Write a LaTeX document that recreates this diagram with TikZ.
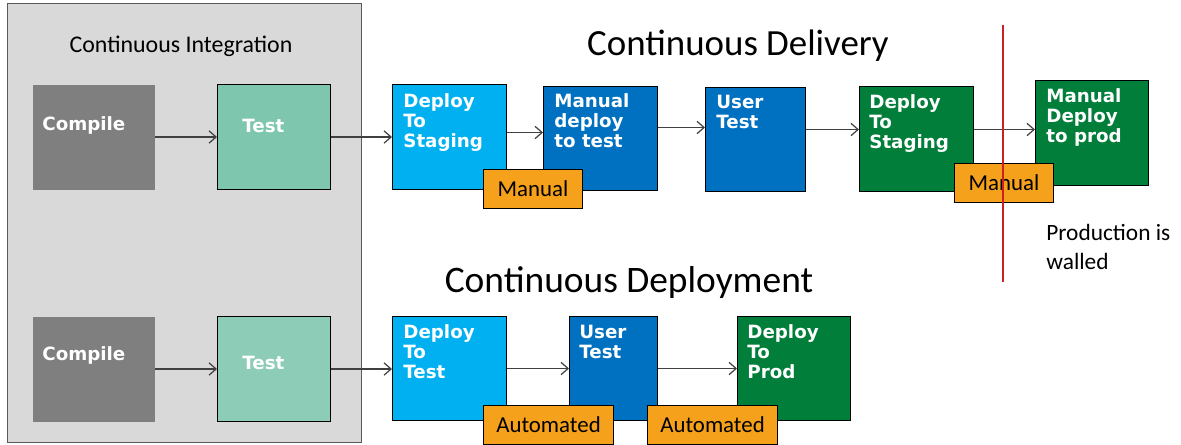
\documentclass[tikz,border=0pt]{standalone}
\usepackage{fontspec}
\setmainfont{Carlito}
\newfontfamily\stagefont{DejaVu Sans}
\usetikzlibrary{arrows.meta}

\definecolor{panelgray}{HTML}{D9D9D9}
\definecolor{panelline}{HTML}{595959}
\definecolor{compilegray}{HTML}{7F7F7F}
\definecolor{testgreenA}{HTML}{7EC7AE}
\definecolor{testgreenB}{HTML}{8DCDB7}
\definecolor{skyblue}{HTML}{00B0F0}
\definecolor{deepblue}{HTML}{0070C0}
\definecolor{prodgreen}{HTML}{007E3A}
\definecolor{tagorange}{HTML}{F6A11C}
\definecolor{wallred}{HTML}{CC1F26}
\definecolor{arrowgray}{HTML}{404040}

\tikzset{
  stage/.style={draw=black, line width=0.6pt, anchor=north west, inner sep=0pt},
  stagetext/.style={font=\stagefont\bfseries\fontsize{10.4}{11.34}\selectfont,
    text=white, align=left, inner sep=0pt, anchor=north west},
  tag/.style={draw=black, line width=0.6pt, fill=tagorange, anchor=north west,
    inner sep=0pt, minimum height=0.78cm,
    font=\fontsize{13}{15}\selectfont},
  flow/.style={draw=arrowgray, line width=0.7pt,
    -{Straight Barb[length=4pt,width=7pt]}},
  heading/.style={font=\fontsize{21}{24}\selectfont, inner sep=0pt},
}

\begin{document}
\begin{tikzpicture}[x=0.02cm, y=-0.02cm]
\useasboundingbox (0,0) rectangle (1181,445);

% Continuous Integration panel
\node[anchor=north west, draw=panelline, line width=0.8pt, fill=panelgray,
  minimum width=7.08cm, minimum height=8.78cm, inner sep=0pt] (ci) at (7,3) {};
\node[font=\fontsize{13.6}{16}\selectfont, inner sep=0pt] (cititle) at (181,46) {Continuous Integration};

% headings
\node[heading] (cdtitle) at (738,46) {Continuous Delivery};
\node[heading, font=\fontsize{21.3}{24}\selectfont] (cptitle) at (629,283) {Continuous Deployment};

% ---- delivery row ----
\node[stage, draw=none, fill=compilegray, minimum width=2.44cm, minimum height=2.10cm] (comp1) at (32,84) {};
\node[stagetext] at ([shift={(10,32)}]comp1.north west) {Compile};
\node[stage, fill=testgreenA, minimum width=2.26cm, minimum height=2.10cm] (test1) at (217,84) {};
\node[stagetext] at ([shift={(25,34.5)}]test1.north west) {Test};

\node[stage, fill=skyblue, minimum width=2.28cm, minimum height=2.10cm] (ds1) at (392,84) {};
\node[stagetext] at ([shift={(11,9)}]ds1.north west) {Deploy\\To\\Staging};
\node[stage, fill=deepblue, minimum width=2.28cm, minimum height=2.08cm] (md) at (543,86) {};
\node[stagetext] at ([shift={(11,7)}]md.north west) {Manual\\deploy\\to test};
\node[stage, fill=deepblue, minimum width=2.00cm, minimum height=2.08cm] (ut1) at (705,87) {};
\node[stagetext] at ([shift={(11,8)}]ut1.north west) {User\\Test};
\node[stage, fill=prodgreen, minimum width=2.28cm, minimum height=2.10cm] (ds2) at (859,86) {};
\node[stagetext] at ([shift={(10,8)}]ds2.north west) {Deploy\\To\\Staging};
\node[stage, fill=prodgreen, minimum width=2.26cm, minimum height=2.10cm] (mdp) at (1035,80) {};
\node[stagetext] at ([shift={(11,8)}]mdp.north west) {Manual\\Deploy\\to prod};

% ---- deployment row ----
\node[stage, draw=none, fill=compilegray, minimum width=2.44cm, minimum height=2.10cm] (comp2) at (32,316) {};
\node[stagetext] at ([shift={(10,30)}]comp2.north west) {Compile};
\node[stage, fill=testgreenB, minimum width=2.26cm, minimum height=2.10cm] (test2) at (217,316) {};
\node[stagetext] at ([shift={(25,39.5)}]test2.north west) {Test};

\node[stage, fill=skyblue, minimum width=2.28cm, minimum height=2.08cm] (dt) at (392,316) {};
\node[stagetext] at ([shift={(11,8)}]dt.north west) {Deploy\\To\\Test};
\node[stage, fill=deepblue, minimum width=1.76cm, minimum height=2.08cm] (ut2) at (569,316) {};
\node[stagetext] at ([shift={(10,8.5)}]ut2.north west) {User\\Test};
\node[stage, fill=prodgreen, minimum width=2.26cm, minimum height=2.08cm] (dp) at (737,316) {};
\node[stagetext] at ([shift={(10,8)}]dp.north west) {Deploy\\To\\Prod};

% ---- connectors ----
\draw[flow] (comp1.east) -- (test1.west);
\draw[flow] (test1.east) -- (test1.east -| ds1.west);
\coordinate (a3) at ([shift={(0,-4.5)}]ds1.east);
\draw[flow] (a3) -- (a3 -| md.west);
\coordinate (a4) at ([shift={(0,-11)}]md.east);
\draw[flow] (a4) -- (a4 -| ut1.west);
\coordinate (a5) at ([shift={(0,-10)}]ut1.east);
\draw[flow] (a5) -- (a5 -| ds2.west);
\coordinate (a6) at ([shift={(0,-9.5)}]ds2.east);
\draw[flow] (a6) -- (a6 -| mdp.west);

\draw[flow] (comp2.east) -- (comp2.east -| test2.west);
\draw[flow] (test2.east) -- (test2.east -| dt.west);
\draw[flow] (dt.east) -- (ut2.west);
\draw[flow] (ut2.east) -- (dp.west);

% ---- gate tags ----
\node[tag, minimum width=1.98cm] (m1) at (483,169) {Manual};
\node[tag, minimum width=1.98cm] (m2) at (954,163) {Manual};
\node[tag, minimum width=2.60cm] (au1) at (483,405) {Automated};
\node[tag, minimum width=2.60cm] (au2) at (647,405) {Automated};

% production wall
\draw[wallred, line width=1.3pt] (1003,25) -- (1003,282);
\node[anchor=north west, align=left, inner sep=0pt,
  font=\fontsize{13.3}{16.4}\selectfont] (wall) at (1046,224) {Production is\\walled};

\end{tikzpicture}
\end{document}
